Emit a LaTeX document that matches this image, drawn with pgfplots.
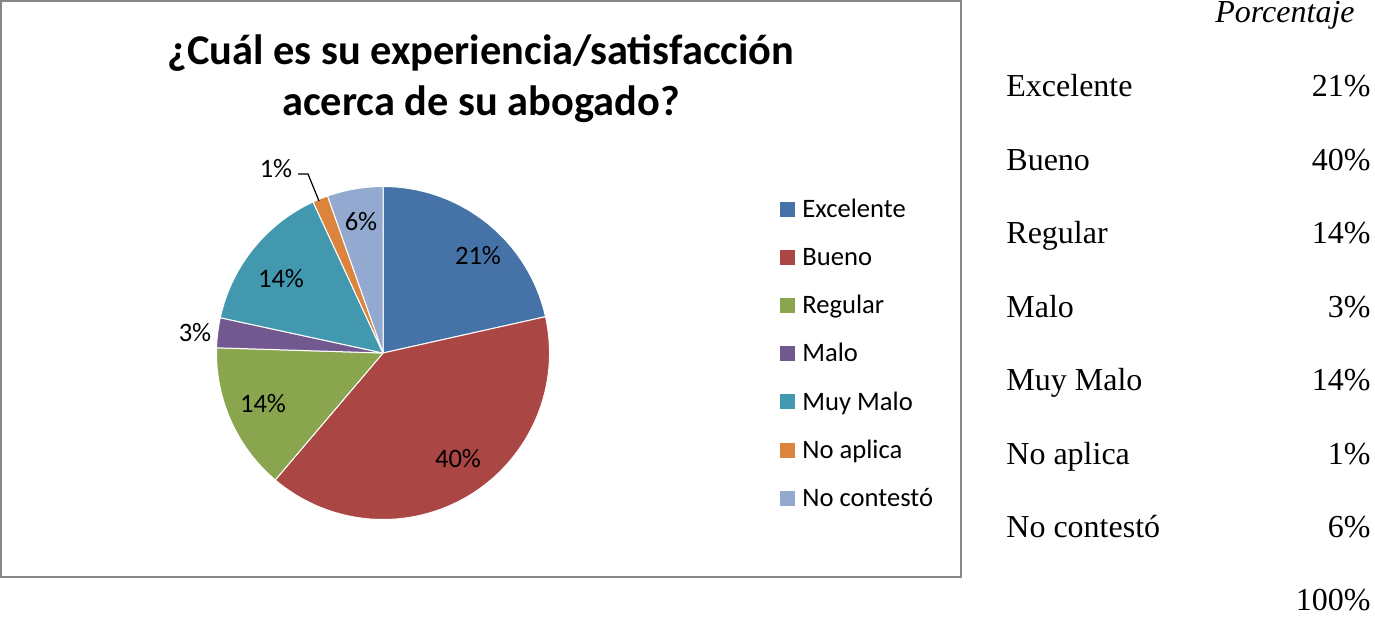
\documentclass[border=0pt]{standalone}
\usepackage{fontspec}
\usepackage{pgfplots}
\usepackage{pgfplotstable}
\pgfplotsset{compat=1.18}
\setmainfont{Liberation Serif}
\newfontfamily\calibri{Carlito}

\definecolor{cExcelente}{HTML}{4572A7}
\definecolor{cBueno}{HTML}{AA4643}
\definecolor{cRegular}{HTML}{89A54E}
\definecolor{cMalo}{HTML}{71588F}
\definecolor{cMuyMalo}{HTML}{4198AF}
\definecolor{cNoAplica}{HTML}{DB843D}
\definecolor{cNoContesto}{HTML}{93A9CF}
\definecolor{frameGray}{HTML}{868686}

% share = angle read off the sectors, pct = printed label
\pgfplotstableread[col sep=comma]{
name,share,pct,col,lx,ly
Excelente,21.5,21,cExcelente,478,256
Bueno,39.7,40,cBueno,458,459
Regular,14.3,14,cRegular,263,404
Malo,2.9,3,cMalo,195,333
Muy Malo,14.7,14,cMuyMalo,281,279
No aplica,1.5,1,cNoAplica,276,169
No contestó,5.4,6,cNoContesto,361,222
}\piedata

\tikzset{
  pielbl/.style={font=\calibri\fontsize{13.3}{16}\selectfont, inner sep=0pt, anchor=center},
  leglbl/.style={font=\calibri\fontsize{13.3}{16}\selectfont, inner sep=0pt, anchor=base west},
  tbl/.style={font=\fontsize{16}{19}\selectfont, inner sep=0pt},
}

\begin{document}
\begin{tikzpicture}
\begin{axis}[
  x=0.5pt, y=0.5pt,
  xmin=0, xmax=1375, ymin=0, ymax=618,
  y dir=reverse,
  hide axis,
  clip=false,
]
% chart frame
\draw[frameGray, line width=0.8pt] (axis cs:1,1) rectangle (axis cs:961,577);

% title
\node[font=\calibri\bfseries\fontsize{21.2}{24}\selectfont, anchor=base, inner sep=0pt]
  at (axis cs:481,64) {¿Cuál es su experiencia/satisfacción};
\node[font=\calibri\bfseries\fontsize{21.2}{24}\selectfont, anchor=base, inner sep=0pt]
  at (axis cs:481,115) {acerca de su abogado?};

\def\angA{90}
\pgfplotsforeachungrouped \i in {0,...,6}{
  \pgfplotstablegetelem{\i}{share}\of\piedata \let\vShare\pgfplotsretval
  \pgfplotstablegetelem{\i}{pct}\of\piedata \let\vPct\pgfplotsretval
  \pgfplotstablegetelem{\i}{col}\of\piedata \let\vCol\pgfplotsretval
  \pgfplotstablegetelem{\i}{name}\of\piedata \let\vName\pgfplotsretval
  \pgfmathsetmacro\angB{\angA-3.6*\vShare}
  \pgfmathsetmacro\legC{209+48.2*\i}
  \pgfmathsetmacro\legT{\legC-7.5}
  \pgfmathsetmacro\legB{\legC+7.5}
  \pgfmathsetmacro\legBase{\legC+8.2}
  \pgfmathsetmacro\tblY{96.5+73.5*\i}
  \edef\temp{%
    \noexpand\fill[\vCol, draw=white, line width=0.5pt, line join=round]
      (axis cs:383,353) -- ++(\angA:83.25pt)
      arc[start angle=\angA, end angle=\angB, radius=83.25pt] -- cycle;
    \noexpand\fill[\vCol] (axis cs:780,\legT) rectangle (axis cs:795,\legB);
    \noexpand\node[leglbl] at (axis cs:802,\legBase) {\vName};
    \noexpand\node[tbl, anchor=base west] at (axis cs:1006,\tblY) {\vName};
    \noexpand\node[tbl, anchor=base east] at (axis cs:1371,\tblY) {\vPct\noexpand\%};
  }%
  \temp
  \let\angA\angB
}
% labels on top of all sectors
\pgfplotsforeachungrouped \i in {0,...,6}{
  \pgfplotstablegetelem{\i}{pct}\of\piedata \let\vPct\pgfplotsretval
  \pgfplotstablegetelem{\i}{lx}\of\piedata \let\vLx\pgfplotsretval
  \pgfplotstablegetelem{\i}{ly}\of\piedata \let\vLy\pgfplotsretval
  \edef\temp{\noexpand\node[pielbl] at (axis cs:\vLx,\vLy) {\vPct\noexpand\%};}%
  \temp
}
% leader line of the 1% label
\draw[black, line width=0.6pt] (axis cs:298,174) -- (axis cs:308,174) -- (axis cs:319,201);

% table header and total
\node[tbl, anchor=base east] at (axis cs:1355,22) {\itshape Porcentaje};
\node[tbl, anchor=base east] at (axis cs:1371,610) {100\%};
\end{axis}
\pgfresetboundingbox
\path (0,0) rectangle (687.5pt,309pt);
\end{tikzpicture}
\end{document}
